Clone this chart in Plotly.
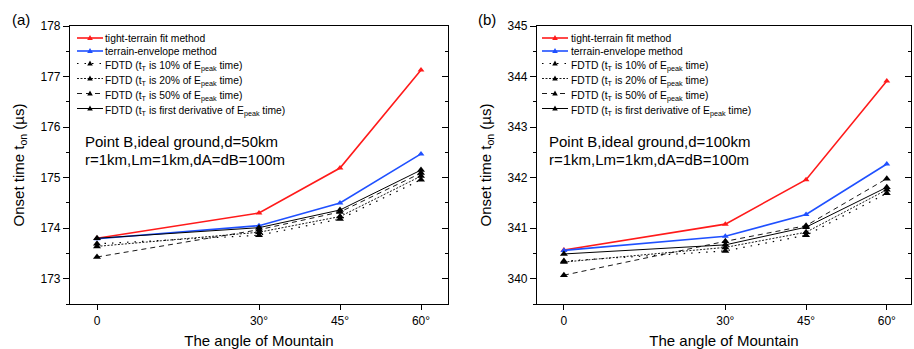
import plotly.graph_objects as go

angles = [0, 30, 45, 60]
angle_labels = ["0", "30°", "45°", "60°"]

# (a) d = 50 km
a_tight = [173.80, 174.30, 175.19, 177.13]
a_env = [173.79, 174.05, 174.50, 175.47]
a_f10 = [173.69, 173.86, 174.18, 174.96]
a_f20 = [173.64, 173.92, 174.23, 175.03]
a_f50 = [173.43, 173.97, 174.32, 175.09]
a_fder = [173.80, 174.01, 174.36, 175.15]

# (b) d = 100 km
b_tight = [340.57, 341.08, 341.96, 343.91]
b_env = [340.56, 340.84, 341.27, 342.27]
b_f10 = [340.35, 340.55, 340.86, 341.69]
b_f20 = [340.33, 340.62, 340.92, 341.76]
b_f50 = [340.07, 340.74, 341.05, 341.98]
b_fder = [340.49, 340.67, 341.02, 341.81]

names = [
    "tight-terrain fit method",
    "terrain-envelope method",
    "FDTD (t<sub>T</sub> is 10% of E<sub>peak</sub> time)",
    "FDTD (t<sub>T</sub> is 20% of E<sub>peak</sub> time)",
    "FDTD (t<sub>T</sub> is 50% of E<sub>peak</sub> time)",
    "FDTD (t<sub>T</sub> is first derivative of E<sub>peak</sub> time)",
]
styles = [
    dict(color="#FF1A1A", width=1.6, dash="solid", msize=6),
    dict(color="#1F50FF", width=1.6, dash="solid", msize=6),
    dict(color="black", width=1.2, dash="1.5px,6px", msize=7),
    dict(color="black", width=0.9, dash="2px,1.5px", msize=7),
    dict(color="black", width=0.9, dash="5px,4px", msize=7),
    dict(color="black", width=1.0, dash="solid", msize=7),
]

FONT = "Liberation Sans, Arial, sans-serif"
W, H = 914, 349
fig = go.Figure()

def add_panel(series, xa, ya):
    for nm, ys, st in zip(names, series, styles):
        fig.add_trace(go.Scatter(
            x=angles, y=ys, name=nm, mode="lines+markers", showlegend=False,
            line=dict(color=st["color"], width=st["width"], dash=st["dash"]),
            marker=dict(symbol="triangle-up", size=st["msize"], color=st["color"]),
            xaxis=xa, yaxis=ya))

add_panel([a_tight, a_env, a_f10, a_f20, a_f50, a_fder], "x", "y")
add_panel([b_tight, b_env, b_f10, b_f20, b_f50, b_fder], "x2", "y2")
# invisible traces to carry the mirrored right-hand axes
fig.add_trace(go.Scatter(x=angles, y=a_tight, xaxis="x", yaxis="y3", opacity=0,
                         showlegend=False, hoverinfo="skip", mode="lines"))
fig.add_trace(go.Scatter(x=angles, y=b_tight, xaxis="x2", yaxis="y4", opacity=0,
                         showlegend=False, hoverinfo="skip", mode="lines"))

ydom = [1 - 304 / H, 1 - 26 / H]
xdom1 = [70 / W, 448 / W]
xdom2 = [537 / W, 911 / W]

def xaxis(dom, rng, anchor):
    return dict(domain=dom, range=rng, tickvals=angles, ticktext=angle_labels,
                ticks="outside", ticklen=5, tickwidth=1, tickcolor="black",
                showline=True, linecolor="black", linewidth=1.2, mirror=True,
                showgrid=False, zeroline=False, anchor=anchor,
                tickfont=dict(family=FONT, size=12, color="black"),
                title=dict(text="The angle of Mountain", standoff=22,
                           font=dict(family=FONT, size=15, color="black")),
                automargin=False)

def yaxis(rng, anchor, title):
    return dict(domain=ydom, range=rng, dtick=1, ticks="outside", ticklen=6,
                tickwidth=1, tickcolor="black",
                minor=dict(dtick=0.5, ticks="outside", ticklen=3, tickcolor="black"),
                showline=True, linecolor="black", linewidth=1.2,
                showgrid=False, zeroline=False, anchor=anchor,
                tickfont=dict(family=FONT, size=12, color="black"),
                title=dict(text=title, standoff=12,
                           font=dict(family=FONT, size=15, color="black")),
                automargin=False)

def ymirror(rng, anchor, over):
    return dict(range=rng, overlaying=over, side="right", anchor=anchor,
                dtick=1, ticks="inside", ticklen=6, tickwidth=1, tickcolor="black",
                minor=dict(dtick=0.5, ticks="inside", ticklen=3, tickcolor="black"),
                showline=True, linecolor="black", linewidth=1.2,
                showticklabels=False, showgrid=False, zeroline=False)

ytitle = "Onset time t<sub>on</sub> (µs)"

annotations = [
    dict(text="(a)", x=21 / W, y=1 - 19 / H),
    dict(text="(b)", x=487 / W, y=1 - 19 / H),
]
for a in annotations:
    a.update(xref="paper", yref="paper", xanchor="center", yanchor="middle",
             showarrow=False, font=dict(family=FONT, size=15, color="black"))

def info_text(x0, dtxt):
    for txt, yy in ((f"Point B,ideal ground,d={dtxt}", 141), ("r=1km,Lm=1km,dA=dB=100m", 159)):
        annotations.append(dict(text=txt, x=x0 / W, y=1 - yy / H, xref="paper",
                                yref="paper", xanchor="left", yanchor="middle",
                                showarrow=False,
                                font=dict(family=FONT, size=15, color="black")))

info_text(83, "50km")
info_text(547, "100km")

# custom compact legend (rows as in the reference)
row_y = [38, 51, 63.5, 78.5, 93.5, 108.5]
shapes = []

def draw_legend(x0, x1, xt):
    for nm, st, yy in zip(names, styles, row_y):
        yp = 1 - yy / H
        shapes.append(dict(type="line", xref="paper", yref="paper",
                           x0=x0 / W, x1=x1 / W, y0=yp, y1=yp,
                           line=dict(color=st["color"], width=st["width"], dash=st["dash"])))
        shapes.append(dict(type="path", xref="paper", yref="paper",
                           xsizemode="pixel", ysizemode="pixel",
                           xanchor=(x0 + x1) / 2 / W, yanchor=yp,
                           path="M-2.8,-2 L2.8,-2 L0,3 Z",
                           fillcolor=st["color"], line=dict(width=0)))
        sub = "<sub>" in nm
        annotations.append(dict(text=nm, x=xt / W, y=1 - (yy + (2.5 if sub else 0)) / H,
                                xref="paper", yref="paper", xanchor="left",
                                yanchor="middle", showarrow=False,
                                font=dict(family=FONT, size=10.3, color="black")))

draw_legend(77, 103, 103)
draw_legend(542, 568, 568.5)

fig.update_layout(
    width=W, height=H, margin=dict(l=0, r=0, t=0, b=0),
    paper_bgcolor="white", plot_bgcolor="white",
    xaxis=xaxis(xdom1, [-5, 65], "y"),
    yaxis=yaxis([172.5, 178], "x", ytitle),
    xaxis2=xaxis(xdom2, [-5, 64.5], "y2"),
    yaxis2=yaxis([339.5, 345], "x2", ytitle),
    yaxis3=ymirror([172.5, 178], "x", "y"),
    yaxis4=ymirror([339.5, 345], "x2", "y2"),
    showlegend=False,
    annotations=annotations,
    shapes=shapes,
)

fig.write_html("out.html")
